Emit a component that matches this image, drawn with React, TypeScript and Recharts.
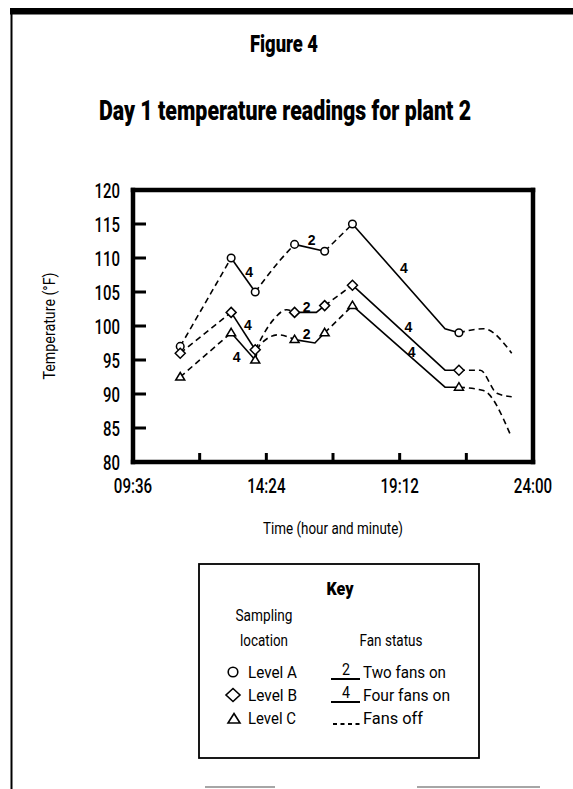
import React from 'react';
import { LineChart, Line, XAxis, YAxis, LabelList, Label } from 'recharts';

// times are minutes after midnight
const sampleTimes = [678, 788, 840, 925, 990, 1050, 1280];
const levelA = [97, 110, 105, 112, 111, 115, 99];
const levelB = [96, 102, 96.5, 102, 103, 106, 93.5];
const levelC = [92.5, 99, 95, 98, 99, 103, 91];
// fan status for each interval between consecutive samples
const fanStatus = ['off', '4', 'off', '2', 'off', '4'];
// hand-drawn bends inside intervals: [interval index, time, temperature]
const bendsA = [[2, 894, 109.7], [5, 1250, 99.6]];
const bendsB = [[2, 879, 100.9], [2, 908, 102.4], [3, 972, 102], [5, 1250, 93.5]];
const bendsC = [[2, 850, 97.2], [2, 890, 98.7], [3, 969, 97.5], [5, 1250, 91]];
// fans-off trace after the last sample
const tailTimesA = [1333, 1394];
const tailA = [99.6, 96];
const tailTimesB = [1326, 1362, 1394];
const tailB = [93.5, 90.1, 89.6];
const tailTimesC = [1333, 1390];
const tailC = [90.5, 84.2];

const xTicks = [576, 720, 864, 1008, 1152, 1296, 1440];
const xTickLabels = ['09:36', '', '14:24', '', '19:12', '', '24:00'];
const yTicks = [80, 85, 90, 95, 100, 105, 110, 115, 120];

const fanLabelTimes = [827, 824, 800, 962, 951, 951, 1161, 1171, 1178];
const fanLabelTemps = [108, 100.1, 95.5, 112.6, 102.8, 98.8, 108.5, 99.9, 96.2];
const fanLabelTexts = ['4', '4', '4', '2', '2', '2', '4', '4', '4'];

type Pt = { t: number; v: number };

function buildSegments(values: number[], bends: number[][], tailTimes: number[], tail: number[]) {
  const segs: { fan: string; pts: Pt[] }[] = [];
  for (let i = 0; i < fanStatus.length; i++) {
    const pts: Pt[] = [{ t: sampleTimes[i], v: values[i] }];
    bends.filter((b) => b[0] === i).forEach((b) => pts.push({ t: b[1], v: b[2] }));
    pts.push({ t: sampleTimes[i + 1], v: values[i + 1] });
    segs.push({ fan: fanStatus[i], pts });
  }
  const last = sampleTimes.length - 1;
  segs.push({
    fan: 'off',
    pts: [{ t: sampleTimes[last], v: values[last] }, ...tailTimes.map((t, k) => ({ t, v: tail[k] }))],
  });
  return segs;
}

const segA = buildSegments(levelA, bendsA, tailTimesA, tailA);
const segB = buildSegments(levelB, bendsB, tailTimesB, tailB);
const segC = buildSegments(levelC, bendsC, tailTimesC, tailC);
const markersA = sampleTimes.map((t, i) => ({ t, v: levelA[i] }));
const markersB = sampleTimes.map((t, i) => ({ t, v: levelB[i] }));
const markersC = sampleTimes.map((t, i) => ({ t, v: levelC[i] }));
const fanLabels = fanLabelTimes.map((t, i) => ({ t, v: fanLabelTemps[i], text: fanLabelTexts[i] }));

const FONT = 'Roboto, "DejaVu Sans", sans-serif';

const CircleDot = (p: any) => (
  <circle key={`ca${p.index}`} cx={p.cx} cy={p.cy} r={3.8} fill="#fff" stroke="#000" strokeWidth={1.5} />
);
const DiamondDot = (p: any) => (
  <polygon
    key={`db${p.index}`}
    points={`${p.cx},${p.cy - 5} ${p.cx + 5},${p.cy} ${p.cx},${p.cy + 5} ${p.cx - 5},${p.cy}`}
    fill="#fff"
    stroke="#000"
    strokeWidth={1.5}
  />
);
const TriangleDot = (p: any) => (
  <polygon
    key={`tc${p.index}`}
    points={`${p.cx},${p.cy - 4.5} ${p.cx + 4.5},${p.cy + 3} ${p.cx - 4.5},${p.cy + 3}`}
    fill="#fff"
    stroke="#000"
    strokeWidth={1.5}
  />
);

const XTick = (p: any) => {
  const idx = xTicks.indexOf(p.payload.value);
  const txt = idx >= 0 ? xTickLabels[idx] : '';
  if (!txt) return <g />;
  return (
    <text
      transform={`translate(${p.x},${p.y}) scale(0.72,1)`}
      x={0}
      y={0}
      textAnchor="middle"
      fontFamily={FONT}
      fontWeight={500}
      fontSize={21}
      fill="#000"
    >
      {txt}
    </text>
  );
};

const YTick = (p: any) => (
  <text
    transform={`translate(${p.x},${p.y + 7.5}) scale(0.71,1)`}
    x={0}
    y={0}
    textAnchor="end"
    fontFamily={FONT}
    fontWeight={500}
    fontSize={21}
    fill="#000"
  >
    {p.payload.value}
  </text>
);

const EmptyTick = () => <g />;

const XLabel = (p: any) => {
  const vb = p.viewBox || { x: 133, y: 462, width: 400 };
  return (
    <text
      x={vb.x + vb.width / 2}
      y={vb.y + 72}
      textAnchor="middle"
      fontFamily={FONT}
      fontSize={17}
      textLength={140}
      lengthAdjust="spacingAndGlyphs"
      fill="#000"
    >
      Time (hour and minute)
    </text>
  );
};

const YLabel = (p: any) => {
  const vb = p.viewBox || { x: 73, y: 190, width: 60, height: 272 };
  const cx = vb.x - 24;
  const cy = vb.y + vb.height / 2;
  return (
    <text
      transform={`translate(${cx},${cy}) rotate(-90)`}
      x={0}
      y={6}
      textAnchor="middle"
      fontFamily={FONT}
      fontSize={17}
      textLength={107}
      lengthAdjust="spacingAndGlyphs"
      fill="#000"
    >
      Temperature (°F)
    </text>
  );
};

const FanLabel = (p: any) => (
  <text
    x={p.x}
    y={p.y + 5}
    textAnchor="middle"
    fontFamily='"Liberation Sans", Arial, sans-serif'
    fontWeight={700}
    fontSize={14}
    fill="#000"
  >
    {p.value}
  </text>
);

const axisLineStyle = { stroke: '#000', strokeWidth: 4.5, strokeLinecap: 'square' as const };
const tickLineStyle = { stroke: '#000', strokeWidth: 3 };

function renderSegments(segs: { fan: string; pts: Pt[] }[], prefix: string) {
  return segs.map((s, i) => (
    <Line
      key={`${prefix}${i}`}
      data={s.pts}
      dataKey="v"
      type={s.fan === 'off' ? 'monotone' : 'linear'}
      stroke="#000"
      strokeWidth={1.6}
      strokeDasharray={s.fan === 'off' ? '6 4' : undefined}
      dot={false}
      activeDot={false}
      isAnimationActive={false}
    />
  ));
}

function KeyText(props: { x: number; y: number; w: number; anchor?: string; size?: number; bold?: boolean; children: string }) {
  return (
    <text
      x={props.x}
      y={props.y}
      textAnchor={props.anchor || 'start'}
      fontFamily={FONT}
      fontSize={props.size || 17}
      fontWeight={props.bold ? 900 : 400}
      textLength={props.w}
      lengthAdjust="spacingAndGlyphs"
      fill="#000"
    >
      {props.children}
    </text>
  );
}

export default function App() {
  return (
    <div style={{ position: 'absolute', left: 0, top: 0, width: 573, height: 789, background: '#fff', overflow: 'hidden' }}>
      <svg width={573} height={789} style={{ position: 'absolute', left: 0, top: 0 }}>
        {/* page frame */}
        <rect x={10} y={8} width={563} height={6.5} fill="#000" />
        <line x1={11.5} y1={8} x2={11.5} y2={789} stroke="#000" strokeWidth={2} />
        <line x1={205} y1={787} x2={275} y2={787} stroke="#888" strokeWidth={1.5} />
        <line x1={417} y1={787} x2={540} y2={787} stroke="#888" strokeWidth={1.5} />
        {/* titles */}
        <KeyText x={284} y={52} w={68} anchor="middle" size={24} bold>
          Figure 4
        </KeyText>
        <KeyText x={285} y={120} w={372} anchor="middle" size={27} bold>
          Day 1 temperature readings for plant 2
        </KeyText>
        {/* key box */}
        <rect x={199} y={564} width={280} height={194} fill="none" stroke="#000" strokeWidth={1.8} />
        <KeyText x={340} y={595} w={27} anchor="middle" size={18} bold>
          Key
        </KeyText>
        <KeyText x={264} y={621} w={57} anchor="middle">
          Sampling
        </KeyText>
        <KeyText x={264} y={646} w={48} anchor="middle">
          location
        </KeyText>
        <KeyText x={391} y={646} w={63} anchor="middle">
          Fan status
        </KeyText>
        <circle cx={233} cy={672} r={4.8} fill="#fff" stroke="#000" strokeWidth={1.6} />
        <KeyText x={248} y={678} w={49}>
          Level A
        </KeyText>
        <polygon points="233,688.5 240,695 233,701.5 226,695" fill="#fff" stroke="#000" strokeWidth={1.6} />
        <KeyText x={248} y={701} w={49}>
          Level B
        </KeyText>
        <polygon points="234,713.5 240,723 228,723" fill="#fff" stroke="#000" strokeWidth={1.6} />
        <KeyText x={248} y={724} w={48}>
          Level C
        </KeyText>
        <line x1={331} y1={679} x2={360} y2={679} stroke="#000" strokeWidth={2} />
        <KeyText x={346} y={675} w={8} anchor="middle" size={16}>
          2
        </KeyText>
        <KeyText x={363} y={678} w={83}>
          Two fans on
        </KeyText>
        <line x1={331} y1={702} x2={360} y2={702} stroke="#000" strokeWidth={2} />
        <KeyText x={346} y={698} w={8} anchor="middle" size={16}>
          4
        </KeyText>
        <KeyText x={363} y={701} w={87}>
          Four fans on
        </KeyText>
        <line x1={333} y1={724} x2={360} y2={724} stroke="#000" strokeWidth={2} strokeDasharray="4 3.5" />
        <KeyText x={363} y={724} w={60}>
          Fans off
        </KeyText>
      </svg>
      <LineChart
        width={573}
        height={789}
        margin={{ top: 189, right: 39, bottom: 247, left: 73 }}
        style={{ position: 'absolute', left: 0, top: 0 }}
      >
        <XAxis
          type="number"
          dataKey="t"
          domain={[576, 1440]}
          ticks={xTicks}
          interval={0}
          height={80}
          axisLine={axisLineStyle}
          tickLine={tickLineStyle}
          tickSize={-9}
          tickMargin={40}
          tick={XTick}
        >
          <Label content={XLabel} />
        </XAxis>
        <XAxis
          xAxisId="top"
          orientation="top"
          type="number"
          dataKey="t"
          domain={[576, 1440]}
          ticks={xTicks}
          interval={0}
          height={1}
          axisLine={axisLineStyle}
          tickLine={tickLineStyle}
          tickSize={-8}
          tick={EmptyTick}
        />
        <YAxis
          type="number"
          domain={[80, 120]}
          ticks={yTicks}
          interval={0}
          width={60}
          axisLine={axisLineStyle}
          tickLine={tickLineStyle}
          tickSize={-13}
          tickMargin={26}
          tick={YTick}
        >
          <Label content={YLabel} />
        </YAxis>
        <YAxis
          yAxisId="right"
          orientation="right"
          type="number"
          domain={[80, 120]}
          ticks={yTicks}
          interval={0}
          width={1}
          axisLine={axisLineStyle}
          tickLine={tickLineStyle}
          tickSize={-13}
          tick={EmptyTick}
        />
        {renderSegments(segA, 'a')}
        {renderSegments(segB, 'b')}
        {renderSegments(segC, 'c')}
        <Line data={markersA} dataKey="v" stroke="none" dot={CircleDot} activeDot={false} isAnimationActive={false} />
        <Line data={markersB} dataKey="v" stroke="none" dot={DiamondDot} activeDot={false} isAnimationActive={false} />
        <Line data={markersC} dataKey="v" stroke="none" dot={TriangleDot} activeDot={false} isAnimationActive={false} />
        <Line data={fanLabels} dataKey="v" stroke="none" dot={false} activeDot={false} isAnimationActive={false}>
          <LabelList dataKey="text" content={FanLabel} />
        </Line>
      </LineChart>
    </div>
  );
}
